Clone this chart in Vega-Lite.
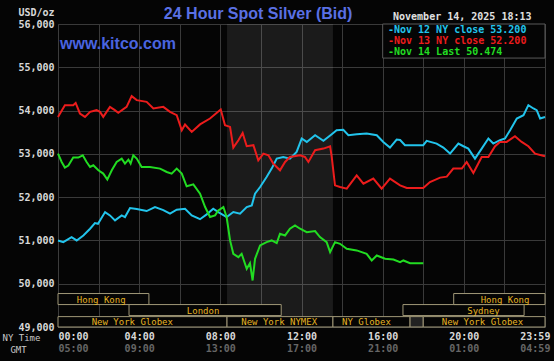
{
  "$schema": "https://vega.github.io/schema/vega-lite/v6.json",
  "autosize": "none",
  "width": 487,
  "height": 303,
  "padding": {"left": 58, "top": 24, "right": 9, "bottom": 34},
  "background": "#050505",
  "config": {
    "view": {"stroke": "#3c3c3c", "strokeWidth": 1},
    "axis": {"domain": false, "ticks": false}
  },
  "datasets": {
    "series": [
      {"s": "Nov 12", "h": 0, "v": 51000}, {"s": "Nov 12", "h": 0.26, "v": 50960}, {"s": "Nov 12", "h": 0.67, "v": 51077}, {"s": "Nov 12", "h": 0.92, "v": 51000}, {"s": "Nov 12", "h": 1.25, "v": 51115}, {"s": "Nov 12", "h": 1.58, "v": 51270}, {"s": "Nov 12", "h": 1.82, "v": 51400}, {"s": "Nov 12", "h": 1.97, "v": 51385}, {"s": "Nov 12", "h": 2.32, "v": 51655}, {"s": "Nov 12", "h": 2.56, "v": 51578}, {"s": "Nov 12", "h": 2.81, "v": 51463}, {"s": "Nov 12", "h": 3.14, "v": 51578}, {"s": "Nov 12", "h": 3.3, "v": 51540}, {"s": "Nov 12", "h": 3.55, "v": 51748}, {"s": "Nov 12", "h": 3.88, "v": 51725}, {"s": "Nov 12", "h": 4.37, "v": 51679}, {"s": "Nov 12", "h": 4.78, "v": 51771}, {"s": "Nov 12", "h": 5.19, "v": 51702}, {"s": "Nov 12", "h": 5.52, "v": 51617}, {"s": "Nov 12", "h": 5.85, "v": 51710}, {"s": "Nov 12", "h": 6.26, "v": 51733}, {"s": "Nov 12", "h": 6.59, "v": 51578}, {"s": "Nov 12", "h": 7.0, "v": 51490}, {"s": "Nov 12", "h": 7.33, "v": 51602}, {"s": "Nov 12", "h": 7.65, "v": 51733}, {"s": "Nov 12", "h": 7.9, "v": 51656}, {"s": "Nov 12", "h": 8.31, "v": 51540}, {"s": "Nov 12", "h": 8.64, "v": 51656}, {"s": "Nov 12", "h": 8.97, "v": 51617}, {"s": "Nov 12", "h": 9.3, "v": 51771}, {"s": "Nov 12", "h": 9.55, "v": 51810}, {"s": "Nov 12", "h": 9.71, "v": 52081}, {"s": "Nov 12", "h": 9.96, "v": 52234}, {"s": "Nov 12", "h": 10.28, "v": 52466}, {"s": "Nov 12", "h": 10.53, "v": 52659}, {"s": "Nov 12", "h": 10.78, "v": 52890}, {"s": "Nov 12", "h": 11.1, "v": 52929}, {"s": "Nov 12", "h": 11.43, "v": 52890}, {"s": "Nov 12", "h": 11.76, "v": 53044}, {"s": "Nov 12", "h": 12.01, "v": 53354}, {"s": "Nov 12", "h": 12.26, "v": 53276}, {"s": "Nov 12", "h": 12.67, "v": 53430}, {"s": "Nov 12", "h": 13.08, "v": 53300}, {"s": "Nov 12", "h": 13.49, "v": 53454}, {"s": "Nov 12", "h": 13.73, "v": 53546}, {"s": "Nov 12", "h": 14.06, "v": 53555}, {"s": "Nov 12", "h": 14.31, "v": 53430}, {"s": "Nov 12", "h": 14.72, "v": 53454}, {"s": "Nov 12", "h": 15.21, "v": 53469}, {"s": "Nov 12", "h": 15.71, "v": 53430}, {"s": "Nov 12", "h": 16.03, "v": 53276}, {"s": "Nov 12", "h": 16.36, "v": 53145}, {"s": "Nov 12", "h": 16.69, "v": 53330}, {"s": "Nov 12", "h": 16.86, "v": 53320}, {"s": "Nov 12", "h": 17.1, "v": 53199}, {"s": "Nov 12", "h": 18.0, "v": 53199}, {"s": "Nov 12", "h": 18.17, "v": 53300}, {"s": "Nov 12", "h": 18.66, "v": 53238}, {"s": "Nov 12", "h": 18.99, "v": 53145}, {"s": "Nov 12", "h": 19.32, "v": 53006}, {"s": "Nov 12", "h": 19.73, "v": 53238}, {"s": "Nov 12", "h": 19.98, "v": 53176}, {"s": "Nov 12", "h": 20.22, "v": 53122}, {"s": "Nov 12", "h": 20.55, "v": 52890}, {"s": "Nov 12", "h": 20.88, "v": 53122}, {"s": "Nov 12", "h": 21.21, "v": 53354}, {"s": "Nov 12", "h": 21.45, "v": 53238}, {"s": "Nov 12", "h": 21.78, "v": 53315}, {"s": "Nov 12", "h": 22.03, "v": 53354}, {"s": "Nov 12", "h": 22.28, "v": 53546}, {"s": "Nov 12", "h": 22.61, "v": 53817}, {"s": "Nov 12", "h": 22.94, "v": 53893}, {"s": "Nov 12", "h": 23.18, "v": 54125}, {"s": "Nov 12", "h": 23.43, "v": 54048}, {"s": "Nov 12", "h": 23.59, "v": 54009}, {"s": "Nov 12", "h": 23.76, "v": 53817}, {"s": "Nov 12", "h": 24, "v": 53850},
      {"s": "Nov 13", "h": 0, "v": 53854}, {"s": "Nov 13", "h": 0.34, "v": 54125}, {"s": "Nov 13", "h": 0.75, "v": 54125}, {"s": "Nov 13", "h": 0.87, "v": 54178}, {"s": "Nov 13", "h": 1.08, "v": 53933}, {"s": "Nov 13", "h": 1.33, "v": 53854}, {"s": "Nov 13", "h": 1.58, "v": 53970}, {"s": "Nov 13", "h": 1.9, "v": 54009}, {"s": "Nov 13", "h": 2.07, "v": 53970}, {"s": "Nov 13", "h": 2.23, "v": 53854}, {"s": "Nov 13", "h": 2.56, "v": 54086}, {"s": "Nov 13", "h": 2.8, "v": 54009}, {"s": "Nov 13", "h": 2.97, "v": 53947}, {"s": "Nov 13", "h": 3.38, "v": 54086}, {"s": "Nov 13", "h": 3.63, "v": 54333}, {"s": "Nov 13", "h": 3.88, "v": 54241}, {"s": "Nov 13", "h": 4.37, "v": 54202}, {"s": "Nov 13", "h": 4.7, "v": 54048}, {"s": "Nov 13", "h": 5.19, "v": 54086}, {"s": "Nov 13", "h": 5.52, "v": 53970}, {"s": "Nov 13", "h": 5.85, "v": 53893}, {"s": "Nov 13", "h": 6.1, "v": 53546}, {"s": "Nov 13", "h": 6.26, "v": 53678}, {"s": "Nov 13", "h": 6.59, "v": 53507}, {"s": "Nov 13", "h": 7.0, "v": 53680}, {"s": "Nov 13", "h": 7.49, "v": 53817}, {"s": "Nov 13", "h": 8.02, "v": 54025}, {"s": "Nov 13", "h": 8.23, "v": 53662}, {"s": "Nov 13", "h": 8.48, "v": 53623}, {"s": "Nov 13", "h": 8.64, "v": 53145}, {"s": "Nov 13", "h": 8.89, "v": 53315}, {"s": "Nov 13", "h": 9.1, "v": 53484}, {"s": "Nov 13", "h": 9.3, "v": 53176}, {"s": "Nov 13", "h": 9.63, "v": 53200}, {"s": "Nov 13", "h": 9.87, "v": 52852}, {"s": "Nov 13", "h": 10.12, "v": 53006}, {"s": "Nov 13", "h": 10.37, "v": 52967}, {"s": "Nov 13", "h": 10.61, "v": 52775}, {"s": "Nov 13", "h": 10.94, "v": 52620}, {"s": "Nov 13", "h": 11.19, "v": 52813}, {"s": "Nov 13", "h": 11.43, "v": 52929}, {"s": "Nov 13", "h": 11.93, "v": 52967}, {"s": "Nov 13", "h": 12.17, "v": 52929}, {"s": "Nov 13", "h": 12.34, "v": 52813}, {"s": "Nov 13", "h": 12.67, "v": 53083}, {"s": "Nov 13", "h": 13.08, "v": 53122}, {"s": "Nov 13", "h": 13.41, "v": 53176}, {"s": "Nov 13", "h": 13.49, "v": 52929}, {"s": "Nov 13", "h": 13.65, "v": 52273}, {"s": "Nov 13", "h": 13.9, "v": 52234}, {"s": "Nov 13", "h": 14.23, "v": 52196}, {"s": "Nov 13", "h": 14.72, "v": 52504}, {"s": "Nov 13", "h": 15.05, "v": 52312}, {"s": "Nov 13", "h": 15.54, "v": 52428}, {"s": "Nov 13", "h": 15.95, "v": 52196}, {"s": "Nov 13", "h": 16.36, "v": 52428}, {"s": "Nov 13", "h": 16.86, "v": 52273}, {"s": "Nov 13", "h": 17.19, "v": 52211}, {"s": "Nov 13", "h": 18.0, "v": 52211}, {"s": "Nov 13", "h": 18.33, "v": 52350}, {"s": "Nov 13", "h": 18.83, "v": 52451}, {"s": "Nov 13", "h": 19.16, "v": 52474}, {"s": "Nov 13", "h": 19.48, "v": 52659}, {"s": "Nov 13", "h": 19.9, "v": 52659}, {"s": "Nov 13", "h": 20.14, "v": 52813}, {"s": "Nov 13", "h": 20.47, "v": 52558}, {"s": "Nov 13", "h": 20.88, "v": 52929}, {"s": "Nov 13", "h": 21.21, "v": 52929}, {"s": "Nov 13", "h": 21.54, "v": 53176}, {"s": "Nov 13", "h": 21.78, "v": 53276}, {"s": "Nov 13", "h": 22.11, "v": 53276}, {"s": "Nov 13", "h": 22.52, "v": 53407}, {"s": "Nov 13", "h": 22.85, "v": 53276}, {"s": "Nov 13", "h": 23.18, "v": 53176}, {"s": "Nov 13", "h": 23.51, "v": 53006}, {"s": "Nov 13", "h": 24, "v": 52944},
      {"s": "Nov 14", "h": 0, "v": 53006}, {"s": "Nov 14", "h": 0.18, "v": 52813}, {"s": "Nov 14", "h": 0.34, "v": 52683}, {"s": "Nov 14", "h": 0.51, "v": 52730}, {"s": "Nov 14", "h": 0.75, "v": 52914}, {"s": "Nov 14", "h": 1.0, "v": 52914}, {"s": "Nov 14", "h": 1.22, "v": 52967}, {"s": "Nov 14", "h": 1.41, "v": 52813}, {"s": "Nov 14", "h": 1.58, "v": 52697}, {"s": "Nov 14", "h": 1.74, "v": 52736}, {"s": "Nov 14", "h": 1.99, "v": 52620}, {"s": "Nov 14", "h": 2.23, "v": 52544}, {"s": "Nov 14", "h": 2.43, "v": 52405}, {"s": "Nov 14", "h": 2.65, "v": 52620}, {"s": "Nov 14", "h": 2.89, "v": 52813}, {"s": "Nov 14", "h": 3.14, "v": 52890}, {"s": "Nov 14", "h": 3.3, "v": 52775}, {"s": "Nov 14", "h": 3.47, "v": 52867}, {"s": "Nov 14", "h": 3.58, "v": 52775}, {"s": "Nov 14", "h": 3.71, "v": 52967}, {"s": "Nov 14", "h": 3.88, "v": 52890}, {"s": "Nov 14", "h": 4.12, "v": 52697}, {"s": "Nov 14", "h": 4.53, "v": 52697}, {"s": "Nov 14", "h": 5.03, "v": 52659}, {"s": "Nov 14", "h": 5.36, "v": 52581}, {"s": "Nov 14", "h": 5.6, "v": 52544}, {"s": "Nov 14", "h": 5.85, "v": 52659}, {"s": "Nov 14", "h": 6.1, "v": 52544}, {"s": "Nov 14", "h": 6.34, "v": 52250}, {"s": "Nov 14", "h": 6.67, "v": 52296}, {"s": "Nov 14", "h": 7.0, "v": 52081}, {"s": "Nov 14", "h": 7.25, "v": 51771}, {"s": "Nov 14", "h": 7.49, "v": 51540}, {"s": "Nov 14", "h": 7.74, "v": 51578}, {"s": "Nov 14", "h": 7.9, "v": 51694}, {"s": "Nov 14", "h": 8.15, "v": 51771}, {"s": "Nov 14", "h": 8.31, "v": 51540}, {"s": "Nov 14", "h": 8.48, "v": 51000}, {"s": "Nov 14", "h": 8.64, "v": 50691}, {"s": "Nov 14", "h": 8.89, "v": 50614}, {"s": "Nov 14", "h": 9.05, "v": 50691}, {"s": "Nov 14", "h": 9.3, "v": 50345}, {"s": "Nov 14", "h": 9.46, "v": 50474}, {"s": "Nov 14", "h": 9.59, "v": 50074}, {"s": "Nov 14", "h": 9.71, "v": 50576}, {"s": "Nov 14", "h": 9.96, "v": 50884}, {"s": "Nov 14", "h": 10.28, "v": 50961}, {"s": "Nov 14", "h": 10.53, "v": 51000}, {"s": "Nov 14", "h": 10.78, "v": 50938}, {"s": "Nov 14", "h": 10.94, "v": 51154}, {"s": "Nov 14", "h": 11.19, "v": 51115}, {"s": "Nov 14", "h": 11.43, "v": 51270}, {"s": "Nov 14", "h": 11.68, "v": 51347}, {"s": "Nov 14", "h": 11.93, "v": 51270}, {"s": "Nov 14", "h": 12.26, "v": 51192}, {"s": "Nov 14", "h": 12.67, "v": 51215}, {"s": "Nov 14", "h": 12.91, "v": 51077}, {"s": "Nov 14", "h": 13.24, "v": 50961}, {"s": "Nov 14", "h": 13.41, "v": 50730}, {"s": "Nov 14", "h": 13.65, "v": 50961}, {"s": "Nov 14", "h": 13.9, "v": 50922}, {"s": "Nov 14", "h": 14.23, "v": 50807}, {"s": "Nov 14", "h": 14.72, "v": 50769}, {"s": "Nov 14", "h": 15.21, "v": 50691}, {"s": "Nov 14", "h": 15.46, "v": 50537}, {"s": "Nov 14", "h": 15.71, "v": 50653}, {"s": "Nov 14", "h": 16.12, "v": 50576}, {"s": "Nov 14", "h": 16.53, "v": 50560}, {"s": "Nov 14", "h": 16.86, "v": 50498}, {"s": "Nov 14", "h": 17.02, "v": 50537}, {"s": "Nov 14", "h": 17.35, "v": 50474}, {"s": "Nov 14", "h": 18.0, "v": 50474}
    ],
    "sessions": [
      {"label": "Hong Kong", "x1": 0, "x2": 4.48, "y1": 49518, "y2": 49773, "lx": 2.13},
      {"label": "London", "x1": 3.5, "x2": 11.0, "y1": 49264, "y2": 49518, "lx": 7.15},
      {"label": "New York Globex", "x1": 0, "x2": 8.33, "y1": 49000, "y2": 49240, "lx": 3.66},
      {"label": "New York NYMEX", "x1": 8.33, "x2": 13.55, "y1": 49000, "y2": 49240, "lx": 10.9},
      {"label": "NY Globex", "x1": 13.55, "x2": 17.35, "y1": 49000, "y2": 49240, "lx": 15.2},
      {"label": "", "x1": 17.35, "x2": 18.0, "y1": 49000, "y2": 49240, "lx": 17.7},
      {"label": "New York Globex", "x1": 18.0, "x2": 24, "y1": 49000, "y2": 49240, "lx": 20.92},
      {"label": "Sydney", "x1": 17.0, "x2": 22.97, "y1": 49264, "y2": 49518, "lx": 20.97},
      {"label": "Hong Kong", "x1": 19.5, "x2": 24, "y1": 49518, "y2": 49773, "lx": 22.03}
    ],
    "legend": [
      {"s": "Nov 12", "t": "-Nov 12 NY close 53.200", "x": 16.26, "y": 55861},
      {"s": "Nov 13", "t": "-Nov 13 NY close 52.200", "x": 16.26, "y": 55606},
      {"s": "Nov 14", "t": "-Nov 14 Last 50.474", "x": 16.26, "y": 55352}
    ]
  },
  "resolve": {"axis": {"x": "independent"}},
  "layer": [
    {
      "data": {"values": [{"start": 8.33, "end": 13.55}]},
      "mark": {"type": "rect", "fill": "#ffffff", "opacity": 0.09},
      "encoding": {
        "x": {
          "field": "start", "type": "quantitative",
          "scale": {"domain": [0, 24], "nice": false, "zero": false},
          "axis": {
            "orient": "bottom",
            "values": [0, 4, 8, 12, 16, 20, 23.5],
            "labelExpr": "datum.value == 23.5 ? '04:59' : ((datum.value + 5) % 24 < 10 ? '0' : '') + ((datum.value + 5) % 24) + ':00'",
            "offset": 14, "grid": false,
            "labelFont": "DejaVu Sans Mono", "labelFontWeight": "bold", "labelFontSize": 10, "labelColor": "#666666", "labelPadding": 2,
            "title": "GMT", "titleFont": "DejaVu Sans Mono", "titleFontWeight": "normal", "titleFontSize": 9, "titleColor": "#c8c8c8",
            "titleAnchor": "start", "titleAlign": "center", "titleBaseline": "middle", "titleX": -40, "titleY": 8
          }
        },
        "x2": {"field": "end"}
      }
    },
    {
      "data": {"name": "sessions"},
      "mark": {"type": "rule", "opacity": 0},
      "encoding": {
        "x": {
          "field": "x1", "type": "quantitative",
          "axis": {"orient": "bottom", "values": [2, 4, 6, 8, 10, 12, 14, 16, 18, 20, 22], "grid": true, "gridColor": "#3a3a3a", "labels": false, "title": null}
        }
      }
    },
    {
      "data": {"name": "series"},
      "mark": {"type": "line", "strokeWidth": 2, "interpolate": "linear"},
      "encoding": {
        "x": {
          "field": "h", "type": "quantitative",
          "axis": {
            "orient": "bottom",
            "values": [0, 4, 8, 12, 16, 20, 23.5],
            "labelExpr": "datum.value == 23.5 ? '23:59' : (datum.value < 10 ? '0' : '') + datum.value + ':00'",
            "grid": false,
            "labelFont": "DejaVu Sans Mono", "labelFontWeight": "bold", "labelFontSize": 10, "labelColor": "#d8d8d8", "labelPadding": 4,
            "title": "NY Time", "titleFont": "DejaVu Sans Mono", "titleFontWeight": "normal", "titleFontSize": 9, "titleColor": "#c8c8c8",
            "titleAnchor": "start", "titleAlign": "center", "titleBaseline": "middle", "titleX": -37, "titleY": 10
          }
        },
        "y": {
          "field": "v", "type": "quantitative", "title": "USD/oz",
          "scale": {"domain": [49000, 56000], "nice": false, "zero": false},
          "axis": {
            "values": [49000, 50000, 51000, 52000, 53000, 54000, 55000, 56000],
            "format": ",d", "grid": true, "gridColor": "#3a3a3a",
            "labelFont": "DejaVu Sans Mono", "labelFontWeight": "bold", "labelFontSize": 10, "labelColor": "#d8d8d8", "labelPadding": 4,
            "titleFont": "DejaVu Sans Mono", "titleFontWeight": "bold", "titleFontSize": 10, "titleColor": "#d8d8d8",
            "titleAngle": 0, "titleAnchor": "end", "titleAlign": "right", "titleBaseline": "middle", "titleX": -4, "titleY": -12
          }
        },
        "color": {
          "field": "s", "type": "nominal", "legend": null,
          "scale": {"domain": ["Nov 12", "Nov 13", "Nov 14"], "range": ["#22c4ec", "#ec1c1c", "#22dc22"]}
        }
      }
    },
    {
      "data": {"name": "sessions"},
      "mark": {"type": "rect", "stroke": "#a09878", "strokeWidth": 1},
      "encoding": {
        "x": {"field": "x1", "type": "quantitative", "axis": null},
        "x2": {"field": "x2"},
        "y": {"field": "y1", "type": "quantitative", "title": "USD/oz"},
        "y2": {"field": "y2"},
        "fill": {"condition": {"test": "datum.label === ''", "value": "#222222"}, "value": "#050505"}
      }
    },
    {
      "data": {"name": "sessions"},
      "mark": {"type": "text", "font": "DejaVu Sans Mono", "fontSize": 9, "color": "#e6b424", "baseline": "middle", "align": "center", "dy": -5},
      "encoding": {
        "x": {"field": "lx", "type": "quantitative", "axis": null},
        "y": {"field": "y1", "type": "quantitative", "title": "USD/oz"},
        "text": {"field": "label"}
      }
    },
    {
      "data": {"values": [{"x1": 16, "x2": 24, "y1": 55213, "y2": 56000}]},
      "mark": {"type": "rect", "fill": "#050505", "stroke": "#5a5a5a", "strokeWidth": 1},
      "encoding": {
        "x": {"field": "x1", "type": "quantitative", "axis": null},
        "x2": {"field": "x2"},
        "y": {"field": "y1", "type": "quantitative", "title": "USD/oz"},
        "y2": {"field": "y2"}
      }
    },
    {
      "data": {"name": "legend"},
      "mark": {"type": "text", "font": "DejaVu Sans Mono", "fontWeight": "bold", "fontSize": 10, "align": "left", "baseline": "middle"},
      "encoding": {
        "x": {"field": "x", "type": "quantitative", "axis": null},
        "y": {"field": "y", "type": "quantitative", "title": "USD/oz"},
        "text": {"field": "t"},
        "color": {"field": "s", "type": "nominal", "legend": null}
      }
    },
    {
      "data": {"values": [{"t": "24 Hour Spot Silver (Bid)", "x": 9.86, "y": 56231}]},
      "mark": {"type": "text", "font": "Liberation Sans", "fontWeight": "bold", "fontSize": 16, "color": "#5a70e4", "align": "center", "baseline": "middle"},
      "encoding": {
        "x": {"field": "x", "type": "quantitative", "axis": null},
        "y": {"field": "y", "type": "quantitative", "title": "USD/oz"},
        "text": {"field": "t"}
      }
    },
    {
      "data": {"values": [{"t": "www.kitco.com", "x": 0.1, "y": 55537}]},
      "mark": {"type": "text", "font": "Liberation Sans", "fontWeight": "bold", "fontSize": 16, "color": "#4a64e0", "align": "left", "baseline": "middle"},
      "encoding": {
        "x": {"field": "x", "type": "quantitative", "axis": null},
        "y": {"field": "y", "type": "quantitative", "title": "USD/oz"},
        "text": {"field": "t"}
      }
    },
    {
      "data": {"values": [{"t": "November 14, 2025 18:13", "x": 16.51, "y": 56162}]},
      "mark": {"type": "text", "font": "DejaVu Sans Mono", "fontWeight": "bold", "fontSize": 10, "color": "#e0e0e0", "align": "left", "baseline": "middle"},
      "encoding": {
        "x": {"field": "x", "type": "quantitative", "axis": null},
        "y": {"field": "y", "type": "quantitative", "title": "USD/oz"},
        "text": {"field": "t"}
      }
    }
  ]
}
